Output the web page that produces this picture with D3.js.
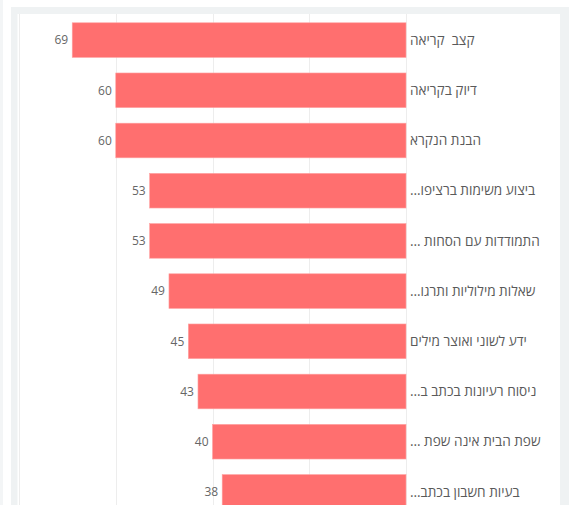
<!DOCTYPE html>
<html>
<head>
<meta charset="utf-8">
<script src="https://cdn.jsdelivr.net/npm/d3@7"></script>
<style>
  html, body { margin: 0; padding: 0; background: #ffffff; overflow: hidden; }
  svg { display: block; }
  text { font-family: "Open Sans", "Liberation Sans", "DejaVu Sans", sans-serif; }
</style>
</head>
<body>
<svg id="chart" width="572" height="505"></svg>
<script>
const categories = [
  "קצב  קריאה",
  "דיוק בקריאה",
  "הבנת הנקרא",
  "ביצוע משימות ברציפו…",
  "התמודדות עם הסחות …",
  "שאלות מילוליות ותרגו…",
  "ידע לשוני ואוצר מילים",
  "ניסוח רעיונות בכתב ב…",
  "שפת הבית אינה שפת …",
  "בעיות חשבון בכתב…"
];
const values = [69, 60, 60, 53, 53, 49, 45, 43, 40, 38];
const xTicks = [0, 20, 40, 60, 80];

const data = categories.map((c, i) => ({ category: c, value: values[i] }));

const svg = d3.select("#chart");

// page / panel backgrounds
svg.append("rect").attr("x", 0).attr("y", 0).attr("width", 3).attr("height", 505).attr("fill", "#f3f5f6");
svg.append("rect").attr("x", 11).attr("y", 7).attr("width", 558).attr("height", 498).attr("fill", "#eff2f3");
svg.append("rect").attr("x", 17.5).attr("y", 14).attr("width", 542.5).attr("height", 491).attr("fill", "#ffffff");

const x = d3.scaleLinear().domain([0, 80]).range([406, 19]);
const y = d3.scaleBand().domain(categories).range([15, 517]).paddingInner(0.31).paddingOuter(0.155);

// gridlines
const grid = svg.append("g").attr("class", "grid");
grid.selectAll("line").data(xTicks).join("line")
  .attr("x1", d => Math.round(x(d)) + 0.5)
  .attr("x2", d => Math.round(x(d)) + 0.5)
  .attr("y1", 14)
  .attr("y2", 505)
  .attr("stroke", "#ededed")
  .attr("stroke-width", 1);

// bars
svg.append("g").selectAll("rect").data(data).join("rect")
  .attr("x", d => x(d.value))
  .attr("y", d => y(d.category))
  .attr("width", d => x(0) - x(d.value))
  .attr("height", y.bandwidth())
  .attr("fill", "#ff6f6f")
  .attr("stroke", "#ffa3a3")
  .attr("stroke-width", 0.6);

// value labels
svg.append("g").selectAll("text").data(data).join("text")
  .attr("x", d => x(d.value) - 4)
  .attr("y", d => y(d.category) + y.bandwidth() / 2)
  .attr("dy", "0.35em")
  .attr("text-anchor", "end")
  .attr("font-size", 12)
  .attr("fill", "#666666")
  .text(d => d.value);

// category labels (RTL)
svg.append("g").selectAll("text").data(data).join("text")
  .attr("x", x(0) + 4)
  .attr("y", d => y(d.category) + y.bandwidth() / 2)
  .attr("dy", "0.35em")
  .attr("direction", "rtl")
  .style("direction", "rtl")
  .style("white-space", "pre")
  .attr("text-anchor", "end")
  .attr("font-size", 13.6)
  .attr("fill", "#5a5a5a")
  .text(d => d.category);
</script>
</body>
</html>
